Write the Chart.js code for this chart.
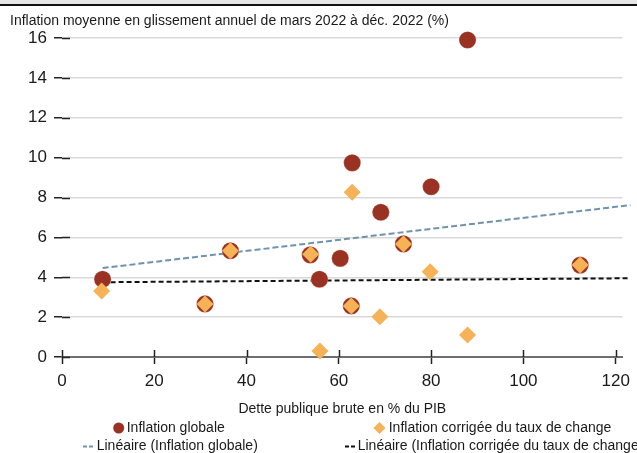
<!DOCTYPE html>
<html>
<head>
<meta charset="utf-8">
<script src="https://cdn.jsdelivr.net/npm/chart.js@4"></script>
<style>
  body { margin: 0; background: #fff; }
  canvas { display: block; }
</style>
</head>
<body>
<canvas id="crowdChart" width="637" height="453"></canvas>
<script>
// data
const globalX = [8.8, 31.0, 36.5, 53.8, 55.8, 60.3, 62.9, 62.7, 69.1, 74.0, 80.0, 87.9, 112.3];
const globalY = [3.9, 2.66, 5.33, 5.12, 3.9, 4.95, 9.74, 2.56, 7.26, 5.67, 8.54, 15.9, 4.61];
const adjX = [8.6, 31.0, 36.5, 53.9, 55.9, 62.9, 62.7, 68.9, 74.0, 79.8, 87.9, 112.3];
const adjY = [3.31, 2.66, 5.33, 5.15, 0.3, 8.26, 2.56, 2.02, 5.67, 4.28, 1.10, 4.61];
const trendX = [8.8, 123.2];
const globalTrendY = [4.46, 7.62];
const adjTrendY = [3.75, 3.95];
const xTicks = [0, 20, 40, 60, 80, 100, 120];
const yTicks = [0, 2, 4, 6, 8, 10, 12, 14, 16];

const seriesNames = [
  'Inflation globale',
  'Inflation corrigée du taux de change',
  'Linéaire (Inflation globale)',
  'Linéaire (Inflation corrigée du taux de change)'
];
const chartTitle = 'Inflation moyenne en glissement annuel de mars 2022 à déc. 2022 (%)';
const xTitle = 'Dette publique brute en % du PIB';

const RED = '#9a3223';
const ORANGE = '#f5b256';
const BLUE = '#6f93ae';
const TXT = "14px 'Liberation Sans', Arial, sans-serif";

const pts = (xs, ys) => xs.map((x, i) => ({ x: x, y: ys[i] }));

// tick marks that cross into the plot, title, legend, top band
const decor = {
  id: 'decor',
  beforeDatasetsDraw(chart) {
    const ctx = chart.ctx, a = chart.chartArea;
    const xs = chart.scales.x, ys = chart.scales.y;
    ctx.save();
    ctx.strokeStyle = '#222';
    ctx.lineWidth = 1.5;
    yTicks.forEach(v => {
      const py = Math.round(ys.getPixelForValue(v)) + 0.5;
      ctx.beginPath(); ctx.moveTo(a.left, py); ctx.lineTo(a.left + 8, py); ctx.stroke();
    });
    xTicks.forEach(v => {
      const px = Math.round(xs.getPixelForValue(v)) + 0.5;
      ctx.beginPath(); ctx.moveTo(px, a.bottom - 7); ctx.lineTo(px, a.bottom); ctx.stroke();
    });
    ctx.restore();
  },
  afterDraw(chart) {
    const ctx = chart.ctx;
    ctx.save();
    // top band
    ctx.fillStyle = '#e6e6e6';
    ctx.fillRect(0, 0, chart.width, 4);
    ctx.fillStyle = '#111';
    ctx.fillRect(0, 4, chart.width, 2);
    // title
    ctx.font = TXT;
    ctx.fillStyle = '#1a1a1a';
    ctx.textBaseline = 'middle';
    ctx.textAlign = 'left';
    ctx.fillText(chartTitle, 10, 21);
    // legend
    ctx.fillStyle = RED;
    ctx.beginPath(); ctx.arc(118.7, 428, 5.5, 0, Math.PI * 2); ctx.fill();
    ctx.fillStyle = ORANGE;
    ctx.beginPath();
    ctx.moveTo(379.5, 422); ctx.lineTo(385.5, 428); ctx.lineTo(379.5, 434); ctx.lineTo(373.5, 428);
    ctx.closePath(); ctx.fill();
    ctx.lineWidth = 2;
    ctx.setLineDash([4, 2]);
    ctx.strokeStyle = BLUE;
    ctx.beginPath(); ctx.moveTo(83, 446.5); ctx.lineTo(95, 446.5); ctx.stroke();
    ctx.strokeStyle = '#111';
    ctx.beginPath(); ctx.moveTo(345, 446.5); ctx.lineTo(357, 446.5); ctx.stroke();
    ctx.setLineDash([]);
    ctx.fillStyle = '#1a1a1a';
    ctx.fillText(seriesNames[0], 126.7, 428);
    ctx.fillText(seriesNames[1], 388.7, 428);
    ctx.fillText(seriesNames[2], 96.7, 446);
    ctx.fillText(seriesNames[3], 357.7, 446);
    ctx.restore();
  }
};

new Chart(document.getElementById('crowdChart'), {
  type: 'scatter',
  data: {
    datasets: [
      {
        label: seriesNames[2],
        type: 'line',
        data: pts(trendX, globalTrendY),
        borderColor: BLUE,
        borderWidth: 2,
        borderDash: [6, 3],
        pointRadius: 0,
        fill: false,
        clip: false,
        order: 4
      },
      {
        label: seriesNames[3],
        type: 'line',
        data: pts(trendX, adjTrendY),
        borderColor: '#111',
        borderWidth: 2,
        borderDash: [5, 3],
        pointRadius: 0,
        fill: false,
        clip: false,
        order: 3
      },
      {
        label: seriesNames[0],
        data: pts(globalX, globalY),
        pointStyle: 'circle',
        pointRadius: 8.6,
        backgroundColor: RED,
        borderColor: 'rgba(255,255,255,0.5)',
        borderWidth: 0.5,
        clip: false,
        order: 2
      },
      {
        label: seriesNames[1],
        data: pts(adjX, adjY),
        pointStyle: 'rectRot',
        pointRadius: 8.5,
        backgroundColor: ORANGE,
        borderWidth: 0,
        clip: false,
        order: 1
      }
    ]
  },
  options: {
    responsive: false,
    animation: false,
    devicePixelRatio: 1,
    layout: { padding: { left: 0, right: 12, top: 38, bottom: 35.6 } },
    plugins: {
      legend: { display: false },
      title: { display: false },
      tooltip: { enabled: false }
    },
    scales: {
      x: {
        type: 'linear',
        min: 0,
        max: 121.5,
        afterFit: s => { s.height = 60.4; },
        ticks: {
          stepSize: 20,
          includeBounds: false,
          padding: 7,
          color: '#1a1a1a',
          font: { family: "'Liberation Sans', Arial, sans-serif", size: 17 }
        },
        grid: {
          drawOnChartArea: false,
          drawTicks: true,
          tickLength: 7,
          tickColor: '#222',
          tickWidth: 1.5
        },
        border: { display: true, color: '#6e6e6e', width: 2 },
        title: {
          display: true,
          text: xTitle,
          color: '#1a1a1a',
          font: { family: "'Liberation Sans', Arial, sans-serif", size: 14 },
          padding: 0
        }
      },
      y: {
        min: 0,
        max: 16,
        afterFit: s => { s.width = 62; },
        ticks: {
          stepSize: 2,
          padding: 7,
          color: '#1a1a1a',
          font: { family: "'Liberation Sans', Arial, sans-serif", size: 17 }
        },
        grid: {
          color: '#d9d9d9',
          lineWidth: 1.5,
          drawTicks: true,
          tickLength: 8,
          tickColor: '#222',
          tickWidth: 1.5
        },
        border: { display: false }
      }
    }
  },
  plugins: [decor]
});
</script>
</body>
</html>
